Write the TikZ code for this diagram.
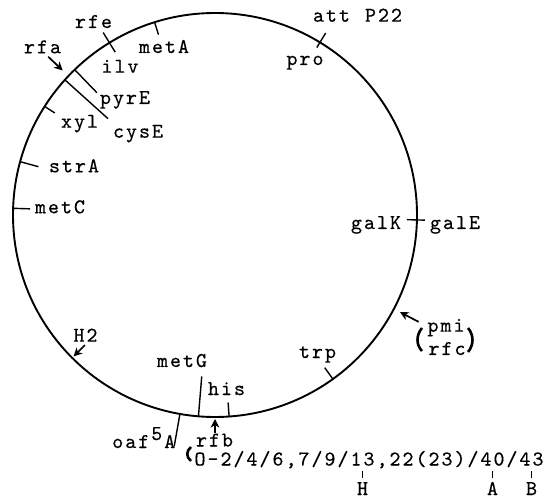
\documentclass[tikz,border=0pt]{standalone}
\usepackage{fontspec}
\newfontfamily\twf{lmmono10-regular.otf}[FakeBold=0.35]
\usetikzlibrary{arrows.meta}
\newcommand\spr[1]{\ifx\relax#1\else\makebox[13pt]{#1}\expandafter\spr\fi}
\begin{document}
\begin{tikzpicture}[x=1pt,y=1pt,
  lab/.style={inner sep=0pt, anchor=base, font=\twf\fontsize{21}{24}\selectfont},
  tk/.style={line width=1.4pt},
  arr/.style={line width=1.7pt, -{Stealth[length=8.5pt,width=8.5pt,inset=2.5pt]}},
  par/.style={line width=2.6pt}]
\useasboundingbox (0,0) rectangle (545,503);
\coordinate (C) at (215,288);
\draw[line width=1.9pt] (C) circle[radius=202];
\begin{scope}[shift={(C)}]
  % ticks
  \draw[tk] (58.7:196) -- (58.7:213);
  \draw[tk] (107.4:189) -- (107.4:202);
  \draw[tk] (121.5:191) -- (121.5:214);
  \draw[tk] (134:170) -- (134:202);
  \draw[tk] (138:144) -- (138:202);
  \draw[tk] (147.5:190) -- (147.5:202);
  \draw[tk] (164.7:183) -- (164.7:202);
  \draw[tk] (178.1:185) -- (178.1:202);
  \draw[tk] (-1.4:192) -- (-1.4:210);
  \draw[tk] (-54.3:188) -- (-54.3:202);
  \draw[tk] (-86:188) -- (-86:202);
  \draw[tk] (-94.7:162) -- (-94.7:202);
  \draw[tk] (-100:202) -- (-100:235);
  % arrow ends
  \coordinate (rfaS) at (136.5:230); \coordinate (rfaT) at (136.5:210);
  \coordinate (rfbS) at (-90:218);   \coordinate (rfbT) at (-90:204);
  \coordinate (pmiS) at (-27.7:230); \coordinate (pmiT) at (-27.7:209);
  \coordinate (h2S) at (-135:184);   \coordinate (h2T) at (-135:200);
\end{scope}
\draw[arr] (rfaS) -- (rfaT);
\draw[arr] (rfbS) -- (rfbT);
\draw[arr] (pmiS) -- (pmiT);
\draw[arr] (h2S) -- (h2T);
% labels
\node[lab] (att) at (357.5,481.3) {\spr att{ }P22\relax};
\node[lab] (pro) at (305,438) {\spr pro\relax};
\node[lab] (rfe) at (93.5,475) {\spr rfe\relax};
\node[lab] (metA) at (164,450) {\spr metA\relax};
\node[lab] (rfa) at (42.5,449.7) {\spr rfa\relax};
\node[lab] (ilv) at (120,430.3) {\spr ilv\relax};
\node[lab] (pyrE) at (125,399) {\spr pyrE\relax};
\node[lab] (xyl) at (79.5,375.3) {\spr xyl\relax};
\node[lab] (cysE) at (138,365.3) {\spr cysE\relax};
\node[lab] (strA) at (74,330.7) {\spr strA\relax};
\node[lab] (metC) at (60,289.7) {\spr metC\relax};
\node[lab] (galK) at (376,274) {\spr galK\relax};
\node[lab] (galE) at (455,274) {\spr galE\relax};
\node[lab] (pmi) at (446,171.3) {\spr pmi\relax};
\node[lab] (rfc) at (447,148) {\spr rfc\relax};
\node[lab] (H2) at (85.5,161.3) {\spr H2\relax};
\node[lab] (metG) at (182,136) {\spr metG\relax};
\node[lab] (his) at (226.5,108) {\spr his\relax};
\node[lab] (trp) at (317.5,145) {\spr trp\relax};
\node[lab] (oaf) at (143.75,55) {\spr oaf{\raisebox{8pt}{5}}A\relax};
\node[lab] (rfb) at (214.5,56.5) {\spr rfb\relax};
\node[lab] (oline) at (369,37.5) {\spr O-2/4/6,7/9/13,22(23)/40/43\relax};
\node[lab] (H) at (362.5,8) {\spr H\relax};
\node[lab] (A) at (492.5,8) {\spr A\relax};
\node[lab] (B) at (531.5,8) {\spr B\relax};
\coordinate (tH) at (362.5,32); \coordinate (bH) at (362.5,25);
\coordinate (tA) at (492.5,32); \coordinate (bA) at (492.5,25);
\coordinate (tB) at (531.5,32); \coordinate (bB) at (531.5,25);
\draw[tk] (tH) -- (bH);
\draw[tk] (tA) -- (bA);
\draw[tk] (tB) -- (bB);
% parentheses
\draw[par] (422,175) .. controls (416,168) and (416,158) .. (422,152);
\draw[par] (468,175) .. controls (474,168) and (474,158) .. (468,151);
\draw[par] (191,56) .. controls (186,52) and (186,46) .. (191,42);
\end{tikzpicture}
\end{document}
